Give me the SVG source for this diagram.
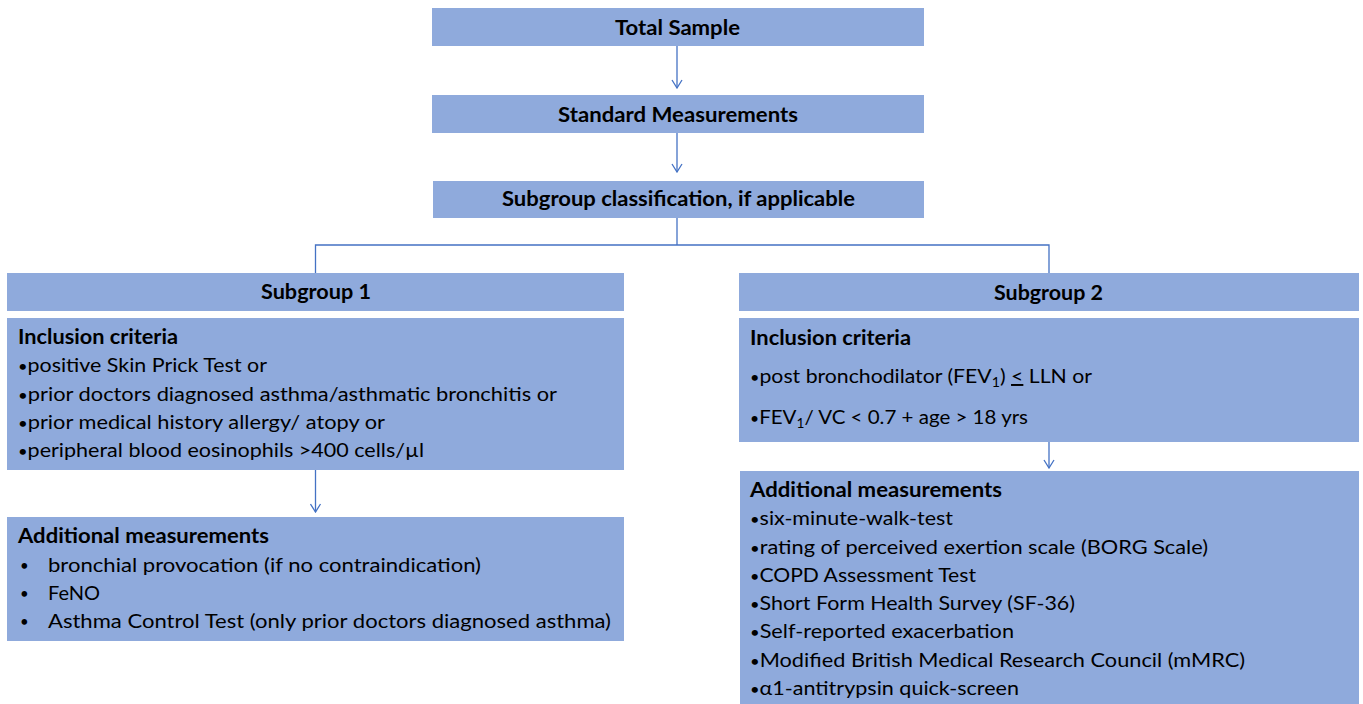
<svg xmlns="http://www.w3.org/2000/svg" width="1363" height="704" viewBox="0 0 1363 704">
  <style>
    .box { fill: #8FAADC; stroke: none; }
    .t { font-family: Lato, "Liberation Sans", sans-serif; fill: #000000; }
    .title { font-size: 20px; font-weight: bold; text-anchor: middle; }
    .head { font-size: 20px; font-weight: bold; }
    .body { font-size: 19.5px; }
    .b { font-size: 15px; }
    .conn { fill: none; stroke: #4472C4; stroke-width: 1.3; }
  </style>
  <defs>
    <marker id="arr" markerUnits="userSpaceOnUse" markerWidth="10" markerHeight="12" viewBox="0 0 10 12" refX="9" refY="6" orient="auto">
      <path d="M1,1 L9,6 L1,11" fill="none" stroke="#4472C4" stroke-width="1.3"/>
    </marker>
  </defs>
  <rect width="1363" height="704" fill="#ffffff"/>

  <g id="connectors">
    <line class="conn" x1="677" y1="46" x2="677" y2="88" marker-end="url(#arr)"/>
    <line class="conn" x1="677" y1="133" x2="677" y2="172" marker-end="url(#arr)"/>
    <path class="conn" d="M677,218 L677,245"/>
    <path class="conn" d="M315.5,273 L315.5,245 L1049,245 L1049,273"/>
    <line class="conn" x1="315.5" y1="470" x2="315.5" y2="512" marker-end="url(#arr)"/>
    <line class="conn" x1="1049" y1="442" x2="1049" y2="468" marker-end="url(#arr)"/>
  </g>

  <g id="total-sample">
    <rect class="box" x="432" y="8" width="492" height="38"/>
    <text class="t title" x="677.5" y="35" textLength="125" lengthAdjust="spacingAndGlyphs">Total Sample</text>
  </g>

  <g id="standard-measurements">
    <rect class="box" x="432" y="95" width="492" height="38"/>
    <text class="t title" x="678" y="122" textLength="240" lengthAdjust="spacingAndGlyphs">Standard Measurements</text>
  </g>

  <g id="subgroup-classification">
    <rect class="box" x="433" y="181" width="491" height="37"/>
    <text class="t title" x="678.5" y="206" textLength="353" lengthAdjust="spacingAndGlyphs">Subgroup classification, if applicable</text>
  </g>

  <g id="subgroup-1">
    <rect class="box" x="7" y="273" width="617" height="38"/>
    <text class="t title" x="316" y="299" textLength="110" lengthAdjust="spacingAndGlyphs">Subgroup 1</text>
  </g>

  <g id="inclusion-1">
    <rect class="box" x="7" y="318" width="617" height="152"/>
    <text class="t head" x="18" y="344" textLength="160" lengthAdjust="spacingAndGlyphs">Inclusion criteria</text>
    <text class="t body" x="18" y="372" textLength="249" lengthAdjust="spacingAndGlyphs"><tspan class="b">•</tspan>positive Skin Prick Test or</text>
    <text class="t body" x="18" y="400.5" textLength="539" lengthAdjust="spacingAndGlyphs"><tspan class="b">•</tspan>prior doctors diagnosed asthma/asthmatic bronchitis or</text>
    <text class="t body" x="18" y="429" textLength="367" lengthAdjust="spacingAndGlyphs"><tspan class="b">•</tspan>prior medical history allergy/ atopy or</text>
    <text class="t body" x="18" y="457" textLength="406" lengthAdjust="spacingAndGlyphs"><tspan class="b">•</tspan>peripheral blood eosinophils &gt;400 cells/µl</text>
  </g>

  <g id="additional-1">
    <rect class="box" x="7" y="517" width="617" height="124"/>
    <text class="t head" x="18" y="543" textLength="251" lengthAdjust="spacingAndGlyphs">Additional measurements</text>
    <text class="t body b" x="20" y="571">•</text>
    <text class="t body" x="48" y="572" textLength="433" lengthAdjust="spacingAndGlyphs">bronchial provocation (if no contraindication)</text>
    <text class="t body b" x="20" y="599">•</text>
    <text class="t body" x="48" y="600" textLength="52" lengthAdjust="spacingAndGlyphs">FeNO</text>
    <text class="t body b" x="20" y="627">•</text>
    <text class="t body" x="48" y="628" textLength="563" lengthAdjust="spacingAndGlyphs">Asthma Control Test (only prior doctors diagnosed asthma)</text>
  </g>

  <g id="subgroup-2">
    <rect class="box" x="739" y="273" width="620" height="38"/>
    <text class="t title" x="1048.5" y="300" textLength="109" lengthAdjust="spacingAndGlyphs">Subgroup 2</text>
  </g>

  <g id="inclusion-2">
    <rect class="box" x="739" y="318" width="620" height="124"/>
    <text class="t head" x="750" y="344.5" textLength="161" lengthAdjust="spacingAndGlyphs">Inclusion criteria</text>
    <text class="t body" x="750" y="383" textLength="342" lengthAdjust="spacingAndGlyphs"><tspan class="b">•</tspan>post bronchodilator (FEV<tspan font-size="13" dy="4">1</tspan><tspan dy="-4">) </tspan><tspan text-decoration="underline">&lt;</tspan> LLN or</text>
    <text class="t body" x="750" y="424" textLength="278" lengthAdjust="spacingAndGlyphs"><tspan class="b">•</tspan>FEV<tspan font-size="13" dy="4">1</tspan><tspan dy="-4">/ VC &lt; 0.7 + age &gt; 18 yrs</tspan></text>
  </g>

  <g id="additional-2">
    <rect class="box" x="740" y="471" width="619" height="240"/>
    <text class="t head" x="750" y="497" textLength="252" lengthAdjust="spacingAndGlyphs">Additional measurements</text>
    <text class="t body" x="750" y="525" textLength="203" lengthAdjust="spacingAndGlyphs"><tspan class="b">•</tspan>six-minute-walk-test</text>
    <text class="t body" x="750" y="553.5" textLength="458" lengthAdjust="spacingAndGlyphs"><tspan class="b">•</tspan>rating of perceived exertion scale (BORG Scale)</text>
    <text class="t body" x="750" y="582" textLength="226" lengthAdjust="spacingAndGlyphs"><tspan class="b">•</tspan>COPD Assessment Test</text>
    <text class="t body" x="750" y="610" textLength="325" lengthAdjust="spacingAndGlyphs"><tspan class="b">•</tspan>Short Form Health Survey (SF-36)</text>
    <text class="t body" x="750" y="638" textLength="264" lengthAdjust="spacingAndGlyphs"><tspan class="b">•</tspan>Self-reported exacerbation</text>
    <text class="t body" x="750" y="667" textLength="495" lengthAdjust="spacingAndGlyphs"><tspan class="b">•</tspan>Modified British Medical Research Council (mMRC)</text>
    <text class="t body" x="750" y="695" textLength="269" lengthAdjust="spacingAndGlyphs"><tspan class="b">•</tspan>α1-antitrypsin quick-screen</text>
  </g>
</svg>
